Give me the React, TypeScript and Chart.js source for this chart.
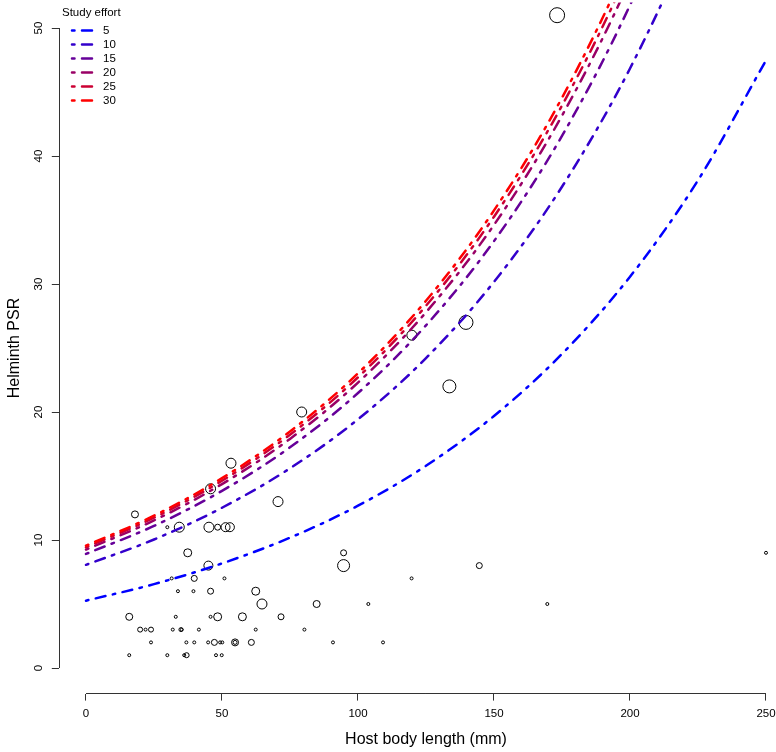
import React, { useEffect, useRef } from "react";
import { Chart, registerables } from "chart.js";

Chart.register(...registerables);

// ---------- data ----------
const curveX = [0, 25, 50, 75, 100, 125, 150, 175, 200, 225, 250];
const effortLevels = ["5", "10", "15", "20", "25", "30"];
const psrEffort5 = [5.26, 6.55, 8.17, 10.18, 12.68, 15.8, 19.69, 24.54, 30.57, 38.1, 47.47];
const psrEffort10 = [8.06, 10.04, 12.52, 15.6, 19.43, 24.21, 30.17, 37.6, 46.84, 58.38, 72.7];
const psrEffort15 = [8.91, 11.1, 13.84, 17.24, 21.48, 26.77, 33.35, 41.57, 51.79, 64.54, 80.4];
const psrEffort20 = [9.25, 11.53, 14.37, 17.9, 22.3, 27.79, 34.62, 43.15, 53.76, 67.0, 83.5];
const psrEffort25 = [9.42, 11.74, 14.63, 18.23, 22.71, 28.3, 35.26, 43.94, 54.75, 68.2, 85.0];
const psrEffort30 = [9.55, 11.9, 14.83, 18.48, 23.02, 28.69, 35.75, 44.55, 55.51, 69.2, 86.2];
const curveSeries = [psrEffort5, psrEffort10, psrEffort15, psrEffort20, psrEffort25, psrEffort30];

const hostLength = [
  173.2, 139.7, 119.8, 133.6, 79.3, 53.3, 70.6, 45.8, 18.0, 34.3, 29.9, 45.2, 48.4, 51.3, 52.9,
  37.4, 94.7, 250, 45.0, 94.7, 144.6, 31.5, 39.8, 50.9, 119.7, 33.8, 39.5, 45.8, 62.4,
  64.7, 84.8, 103.8, 169.6, 15.9, 33.0, 45.8, 48.4, 57.5, 71.7,
  19.9, 21.9, 23.9, 31.9, 34.9, 35.2, 41.5, 62.4, 80.3,
  23.9, 36.9, 39.8, 44.9, 47.2, 49.3, 50.1, 54.8, 54.8, 60.8, 90.8, 109.2,
  15.9, 29.9, 36.1, 37.0, 47.8, 49.9,
];
const helminthPSR = [
  51, 27, 26, 22, 20, 16, 13, 14, 12, 11, 11, 11, 11, 11, 11,
  9, 9, 9, 8, 8, 8, 7, 7, 7, 7, 6, 6, 6, 6,
  5, 5, 5, 5, 4, 4, 4, 4, 4, 4,
  3, 3, 3, 3, 3, 3, 3, 3, 3,
  2, 2, 2, 2, 2, 2, 2, 2, 2, 2, 2, 2,
  1, 1, 1, 1, 1, 1,
];
// symbol size (scaled by study effort)
const effortSymbol = [
  8, 7.5, 5.5, 7, 5.5, 5.5, 5.5, 5.5, 4, 5.5, 2, 5.5, 3.5, 5, 5,
  4.5, 3.5, 2, 5, 6.5, 3.5, 2, 3.5, 2, 2, 2, 2, 3.5, 4.5,
  5.5, 4, 2, 2, 4, 2, 2, 4.5, 4.5, 3.5,
  3, 2, 3, 2, 2.5, 2, 2, 2, 2,
  2, 2, 2, 2, 3.5, 2, 2, 4, 2.5, 3.5, 2, 2,
  2, 2, 2, 3, 2, 2,
];

const xTickValues = [0, 50, 100, 150, 200, 250];
const yTickValues = [0, 10, 20, 30, 40, 50];
const legendTitle = "Study effort";
const xTitle = "Host body length (mm)";
const yTitle = "Helminth PSR";

// ---------- styles ----------
const lineColors = ["#0000FF", "#3300CC", "#660099", "#990066", "#CC0033", "#FF0000"];
const FONT = "'Liberation Sans', Arial, Helvetica, sans-serif";
const AXIS_COLOR = "#333333";

const rAxesPlugin = {
  id: "rAxes",
  afterDraw(chart: any) {
    const { ctx, chartArea } = chart;
    const x = chart.scales.x;
    const y = chart.scales.y;
    ctx.save();
    ctx.strokeStyle = AXIS_COLOR;
    ctx.lineWidth = 1;
    ctx.beginPath();
    const by = Math.round(chartArea.bottom) - 0.5;
    ctx.moveTo(x.getPixelForValue(xTickValues[0]), by);
    ctx.lineTo(x.getPixelForValue(xTickValues[xTickValues.length - 1]), by);
    const lx = Math.round(chartArea.left) + 0.5;
    ctx.moveTo(lx, y.getPixelForValue(yTickValues[0]));
    ctx.lineTo(lx, y.getPixelForValue(yTickValues[yTickValues.length - 1]));
    ctx.stroke();

    // x axis title, centred on the plot region as in R
    ctx.font = `16px ${FONT}`;
    ctx.fillStyle = "#000";
    ctx.textAlign = "center";
    ctx.textBaseline = "middle";
    ctx.fillText(xTitle, x.getPixelForValue(125), 740);

    // legend
    ctx.font = `11.5px ${FONT}`;
    ctx.fillStyle = "#000";
    ctx.textBaseline = "middle";
    ctx.textAlign = "left";
    ctx.fillText(legendTitle, 62, 13);
    const lineSets = chart.data.datasets.filter((d: any) => d.showLine);
    lineSets.forEach((ds: any, i: number) => {
      const yy = 30.5 + i * 14;
      ctx.save();
      ctx.strokeStyle = ds.borderColor;
      ctx.lineWidth = ds.borderWidth;
      ctx.setLineDash(ds.borderDash);
      ctx.lineCap = "round";
      ctx.beginPath();
      ctx.moveTo(72, yy);
      ctx.lineTo(93, yy);
      ctx.stroke();
      ctx.restore();
      ctx.fillText(ds.label, 103, yy);
    });
    ctx.restore();
  },
};

export default function App() {
  const canvasRef = useRef<HTMLCanvasElement | null>(null);

  useEffect(() => {
    document.body.style.margin = "0";
    const canvas = canvasRef.current;
    if (!canvas) return;

    const lineDatasets = curveSeries.map((vals, i) => ({
      type: "scatter" as const,
      label: effortLevels[i],
      data: curveX.map((xv, j) => ({ x: xv, y: vals[j] })),
      showLine: true,
      borderColor: lineColors[i],
      backgroundColor: lineColors[i],
      borderWidth: 2.5,
      borderDash: [2.5, 7.5, 10, 7.5],
      borderCapStyle: "round" as const,
      cubicInterpolationMode: "monotone" as const,
      pointRadius: 0,
      pointHoverRadius: 0,
      fill: false,
      order: 6 - i,
    }));

    const pointDataset = {
      type: "scatter" as const,
      label: "species",
      data: hostLength.map((xv, i) => ({ x: xv, y: helminthPSR[i] })),
      showLine: false,
      pointRadius: effortSymbol.map((s) => s - 0.5),
      pointHoverRadius: effortSymbol.map((s) => s - 0.5),
      pointBorderColor: "#000000",
      pointBackgroundColor: "rgba(0,0,0,0)",
      pointBorderWidth: 1,
      order: 100,
    };

    const chart = new Chart(canvas, {
      type: "scatter",
      data: { datasets: [...lineDatasets, pointDataset] as any },
      options: {
        responsive: false,
        animation: false,
        devicePixelRatio: 1,
        events: [],
        layout: { autoPadding: false, padding: { top: 2.4, right: 0, left: 0, bottom: 0 } },
        plugins: { legend: { display: false }, tooltip: { enabled: false } },
        scales: {
          x: {
            type: "linear",
            min: -10,
            max: 253.68,
            afterBuildTicks: (s: any) => {
              s.ticks = xTickValues.map((v) => ({ value: v }));
            },
            afterFit: (s: any) => {
              s.height = 58.4;
              s.paddingLeft = 0;
              s.paddingRight = 0;
            },
            border: { display: false },
            grid: {
              display: true,
              drawOnChartArea: false,
              drawTicks: true,
              tickLength: 7,
              color: AXIS_COLOR,
              lineWidth: 1,
            },
            ticks: {
              color: "#000",
              font: { family: FONT, size: 11.5 },
              padding: 6.5,
              maxRotation: 0,
              minRotation: 0,
              autoSkip: false,
            },
            title: { display: false, text: xTitle },
          },
          y: {
            type: "linear",
            min: -2,
            max: 52,
            afterBuildTicks: (s: any) => {
              s.ticks = yTickValues.map((v) => ({ value: v }));
            },
            afterFit: (s: any) => {
              s.width = 58.8;
              s.paddingTop = 0;
              s.paddingBottom = 0;
            },
            border: { display: false },
            grid: {
              display: true,
              drawOnChartArea: false,
              drawTicks: true,
              tickLength: 7,
              color: AXIS_COLOR,
              lineWidth: 1,
            },
            ticks: {
              color: "#000",
              font: { family: FONT, size: 11.5 },
              padding: 7,
              minRotation: 90,
              maxRotation: 90,
              crossAlign: "center",
              autoSkip: false,
            },
            title: {
              display: true,
              text: yTitle,
              color: "#000",
              font: { family: FONT, size: 16 },
              padding: { top: 5, bottom: 0 },
            },
          },
        },
      } as any,
      plugins: [rAxesPlugin],
    });

    return () => chart.destroy();
  }, []);

  return (
    <canvas
      ref={canvasRef}
      width={776}
      height={752}
      style={{ display: "block", position: "absolute", left: 0, top: 0 }}
    />
  );
}
